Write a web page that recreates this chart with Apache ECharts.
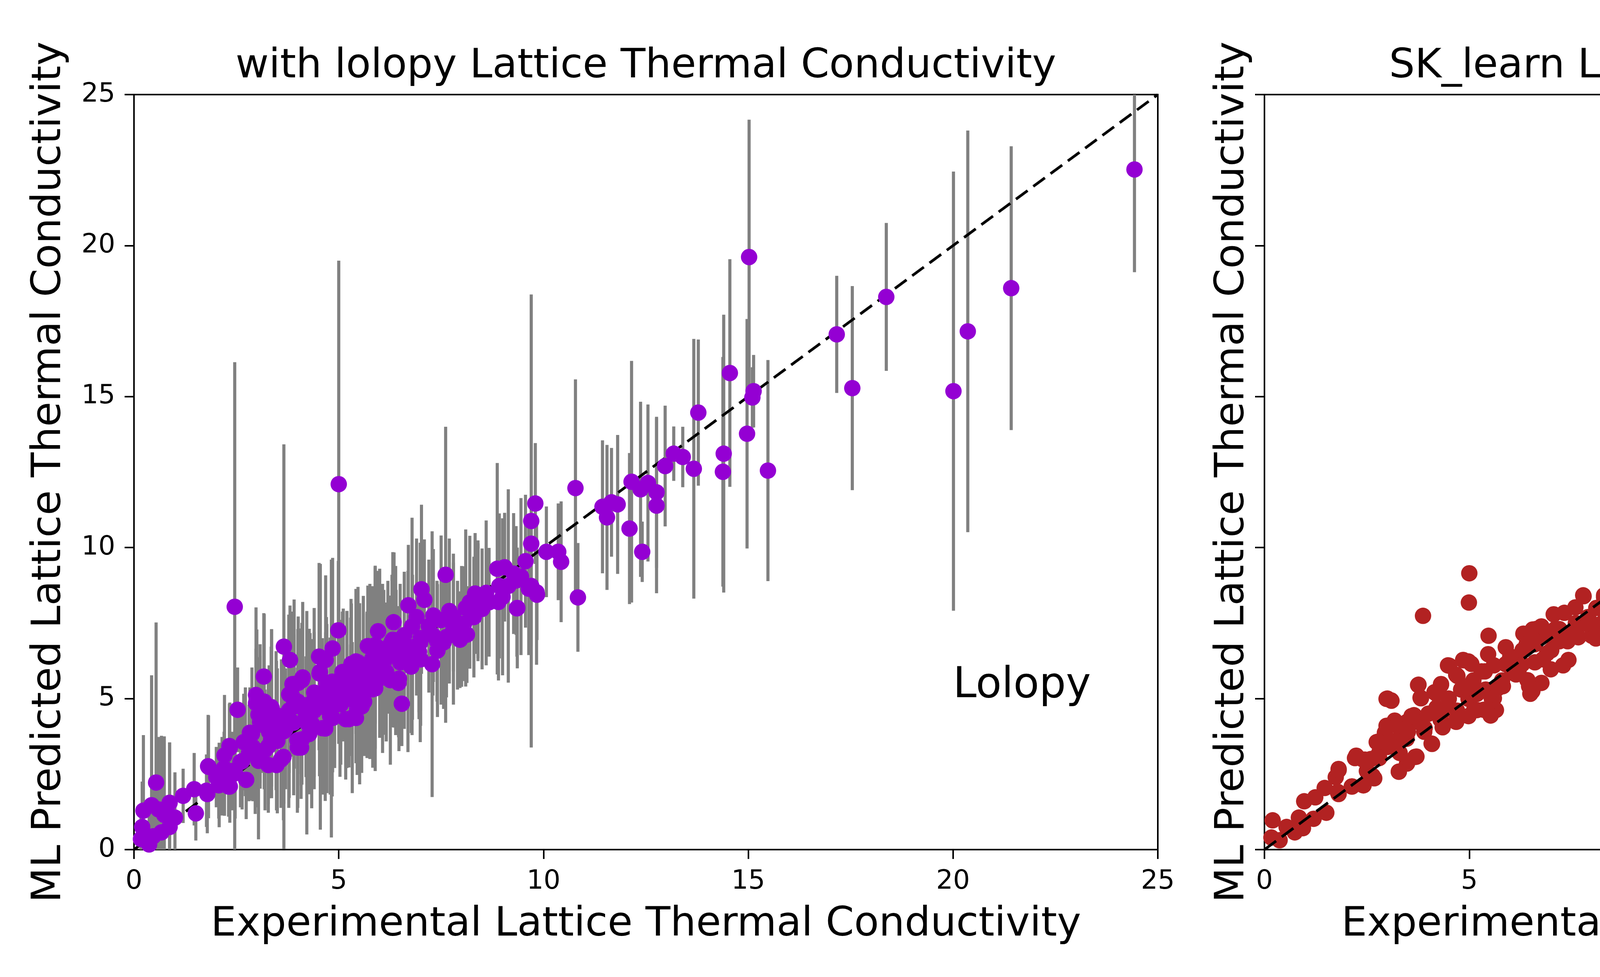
<!DOCTYPE html>
<html><head><meta charset="utf-8">
<script src="https://cdn.jsdelivr.net/npm/echarts@6/dist/echarts.min.js"></script>
<style>html,body{margin:0;padding:0;background:#fff}#c{width:6000px;height:2500px}</style>
</head><body><div id="c"></div>
<script>
// ---------------- data ----------------
const axisTicks = [0, 5, 10, 15, 20, 25];
const identityLine = [0, 25];
const titles = ['with lolopy Lattice Thermal Conductivity', 'SK_learn Lattice Thermal Conductivity'];
const xLabel = 'Experimental Lattice Thermal Conductivity';
const yLabel = 'ML Predicted Lattice Thermal Conductivity';
const panelNames = ['Lolopy', 'Sklearn'];
const maeText = 'MAE: 1.07';
const r2Value = '0.74';

// lolopy: [experimental, predicted, uncertainty]
const lolopyPoints = [
 [24.43,22.52,3.4],[21.42,18.59,4.7],[20.36,17.16,6.65],[20.01,15.18,7.27],[18.37,18.30,2.45],
 [17.54,15.28,3.38],[17.16,17.06,1.94],[15.02,19.62,4.55],[14.97,13.77,3.8],[15.13,15.18,1.2],
 [15.10,14.97,1.0],[14.55,15.78,3.77],[15.48,12.55,3.66],[14.40,13.11,4.6],[14.38,12.51,3.8],
 [13.78,14.47,2.42],[13.67,12.61,4.3],[13.40,13.00,1.0],[13.18,13.11,0.9],[12.97,12.70,2.0],
 [12.76,11.83,2.5],[12.76,11.39,2.9],[12.55,12.14,2.6],[12.37,11.93,2.9],[12.41,9.86,1.0],
 [12.15,12.18,4.0],[12.10,10.63,2.5],[11.81,11.43,2.3],[11.66,11.50,1.8],[11.55,11.00,2.4],
 [11.44,11.35,2.2],[10.78,11.97,3.6],[10.84,8.35,1.8],[10.43,9.53,2.0],[10.36,9.86,1.6],
 [10.07,9.86,1.5],[9.80,11.46,2.0],[9.70,10.88,7.5],[9.70,10.13,2.3],[9.83,8.52,2.4],
 [9.70,8.73,2.0],[9.56,9.55,2.2],[9.36,8.00,2.0],[8.87,9.30,3.5],[9.05,9.35,1.8],
 [9.27,9.14,2.0],[9.14,8.73,3.2],[8.92,8.73,2.4],[9.45,9.04,2.6],[7.61,9.10,4.9],
 [8.33,8.48,2.0],[8.20,8.19,2.2],[8.67,8.19,1.8],[8.50,7.97,2.0],[8.40,8.24,1.9],
 [9.00,8.37,2.6],[9.35,7.99,1.6],[9.64,8.64,2.2],[9.84,8.44,1.5],[9.33,8.91,1.8],
 [5.00,12.10,7.4],[2.46,8.04,8.1],[7.02,8.62,2.8],[7.09,8.27,2.0],[6.70,8.09,2.0],
 [7.31,7.75,2.2],[7.80,7.70,1.8],[8.00,7.39,2.0],[8.13,7.12,1.6],[7.96,6.95,1.6],
 [7.63,7.04,2.0],[7.41,6.59,2.2],[7.28,6.14,4.4],[6.79,7.39,3.6],[6.34,7.53,2.3],
 [5.96,7.23,2.0],[6.32,6.95,2.9],[6.99,6.86,3.3],[6.96,6.32,2.0],[6.77,6.06,2.2],
 [6.54,4.83,1.4],[6.46,5.52,1.8],[6.16,5.88,2.3],[5.89,6.77,2.6],[5.82,6.32,2.4],
 [5.69,5.88,2.0],[5.42,6.23,2.4],[5.29,5.88,1.8],[5.09,5.88,2.0],[4.99,7.26,2.3],
 [4.85,6.66,3.0],[4.68,6.28,2.8],[4.52,6.39,3.1],[4.54,5.88,2.0],[5.09,5.79,1.5],
 [5.62,4.90,1.8],[5.42,4.36,1.5],[5.25,4.32,1.6],[4.85,4.36,1.8],[4.67,4.01,2.4],
 [4.28,4.81,2.5],[4.08,3.38,1.7],[4.10,3.65,1.5],[4.01,5.52,2.2],[4.12,5.70,2.5],
 [3.87,5.48,2.4],[3.85,5.12,2.0],[3.66,6.72,6.7],[3.81,6.28,1.8],[3.78,4.58,3.2],
 [3.48,4.45,1.8],[3.35,4.72,2.0],[3.17,5.73,2.1],[2.98,5.12,2.9],[2.98,4.85,1.8],
 [3.08,4.50,2.3],[3.11,4.14,1.6],[2.53,4.63,1.4],[2.33,3.43,1.4],[2.21,3.12,2.0],
 [2.68,3.56,1.6],[2.88,3.83,2.2],[2.81,3.20,1.6],[3.35,3.65,1.8],[3.65,3.07,2.1],
 [3.48,2.80,1.5],[3.28,2.80,1.3],[3.04,2.94,2.6],[2.74,2.31,1.3],[2.31,2.09,1.0],
 [2.07,2.13,1.1],[1.81,2.76,1.7],[1.77,1.95,1.2],[2.01,2.40,1.0],[1.47,2.00,1.2],
 [1.51,1.20,0.9],[1.20,1.78,0.9],[0.87,1.55,2.0],[0.74,1.15,2.6],[0.54,2.22,5.3],
 [0.43,1.47,4.3],[0.23,1.29,2.5],[0.60,1.33,2.4],[1.00,1.06,1.5],[0.87,0.75,2.8],
 [0.67,0.57,3.2],[0.47,0.44,2.0],[0.37,0.17,1.5],[0.20,0.75,1.5],[0.17,0.35,1.0],
 [4.08,4.72,2.6],[4.28,3.83,2.0],[4.68,4.99,2.2],[5.05,4.81,2.0],[5.29,4.99,1.8],
 [5.45,4.67,2.2],[5.69,5.43,2.4],[5.89,5.34,2.0],[6.26,5.61,2.8],[6.69,6.23,3.0],
 [6.96,6.55,2.0],[7.56,6.86,2.2],[7.80,7.30,2.5],[8.06,7.48,1.9],[8.40,8.24,2.0],
 [2.60,2.90,1.5],[2.90,3.40,1.8],[3.20,3.30,2.0],[3.50,3.60,2.4],[3.70,4.00,2.0],
 [3.90,4.20,2.4],[4.20,4.40,2.0],[4.40,4.60,2.6],[4.60,4.80,2.2],[4.90,5.10,2.4],
 [5.20,5.30,2.6],[5.50,5.60,2.2],[5.80,5.90,2.0],[6.10,6.20,2.4],[6.40,6.40,2.2],
 [6.60,6.60,2.6],[7.00,7.00,2.4],[7.30,7.10,2.0],[2.40,2.60,1.3],[2.20,2.70,1.2],
 [3.00,3.10,1.7],[3.30,3.90,2.2],[3.60,4.30,2.0],[4.00,4.90,2.4],[4.40,5.20,2.8],
 [4.70,5.50,2.2],[5.00,5.50,2.0],[5.30,5.70,2.6],[5.60,6.00,2.4],[6.00,6.50,2.8],
 [6.30,6.90,2.2],[6.60,7.10,2.0],
 [3.00,4.89,2.4],[4.53,5.83,3.4],[4.10,5.61,1.9],[3.91,5.48,2.8],[3.79,5.14,2.6],
 [5.11,5.78,2.2],[4.84,5.56,3.8],[5.47,6.20,2.5],[5.31,6.15,2.0],[5.71,6.74,2.0],
 [6.35,6.94,2.9],[6.47,5.66,2.4],[6.07,5.70,2.5],[5.85,5.41,2.0],[5.56,4.74,2.2],
 [5.33,4.37,2.5],[5.17,4.32,2.0],[4.79,4.42,2.6],[4.60,4.02,2.2],[4.34,4.17,2.8],
 [3.99,3.62,2.4],[4.00,3.38,2.0],[3.79,4.61,2.9],[3.47,4.27,2.3],[3.36,4.69,2.6],
 [3.08,4.22,2.2],[3.04,4.47,1.9],[3.59,2.98,1.6],[2.83,3.87,1.5],[2.72,3.57,1.8],
 [2.34,3.37,1.5],[2.34,2.09,1.2],[2.08,2.14,1.4],[1.82,2.74,1.7],[1.79,1.84,1.3],
 [4.55,5.06,4.4],[5.03,5.01,2.6],[5.51,5.16,3.0],[5.83,5.31,2.6],[5.20,5.50,2.4],
 [4.71,4.67,2.8],[4.30,4.77,2.4],[3.91,4.92,2.2],[3.66,3.92,2.4],[3.28,3.42,2.2],
 [2.96,3.18,2.0],[2.64,2.93,1.6],[2.47,2.53,1.5],[2.15,2.43,1.3],[6.07,6.40,2.4],
 [6.39,6.59,2.8],[5.76,5.90,2.9],[4.22,4.20,3.7],[4.82,5.00,4.6],[5.89,6.00,3.4],
 [3.18,4.90,2.9],[3.36,4.50,2.8],
 [6.90,7.70,2.6],[7.20,7.40,2.2],[7.50,7.60,2.8],[7.70,7.90,2.4],[8.10,8.00,2.6],
 [7.00,6.30,2.2],[7.40,6.90,2.0],[6.80,6.70,2.4],[6.50,6.20,2.6],[6.20,6.70,2.2],
 [7.90,7.10,1.8],[8.30,7.70,2.0],[8.60,8.50,2.4],[8.90,8.20,2.6]
];

// sklearn: [experimental, predicted]
const sklearnPoints = [
 [24.42,21.22],[21.40,18.55],[20.34,16.75],[20.01,14.72],[18.35,17.51],[17.55,14.93],[17.15,17.39],
 [15.01,15.80],[15.12,14.45],[14.96,14.21],[15.47,14.14],[14.54,14.41],[14.37,13.19],[14.41,11.48],
 [13.77,13.75],[13.66,12.86],[13.40,13.25],[13.18,12.76],[12.98,12.92],[12.73,11.08],[12.75,11.25],
 [12.53,11.50],[12.38,11.93],[12.40,10.98],[12.14,12.65],[12.09,10.44],[11.80,11.17],[11.56,10.96],
 [11.43,11.46],[10.79,11.62],[10.83,9.47],[10.43,9.45],[10.35,10.48],[10.04,9.97],[9.70,10.77],
 [9.71,9.97],[9.75,9.66],[9.82,8.68],[9.63,8.77],[9.42,8.25],[9.26,8.31],[8.97,9.70],[8.91,9.35],
 [9.13,9.40],[9.31,9.33],[9.51,9.24],[9.06,8.62],[8.64,8.73],[8.47,8.68],[8.87,8.04],[8.51,7.63],
 [8.29,8.35],[7.78,8.42],[5.00,9.15],[4.99,8.18],[3.87,7.74],
 [5.47,7.08],[5.46,6.47],[5.89,6.70],[6.32,7.15],[6.62,7.30],[6.76,7.39],[7.06,7.79],[7.32,7.84],
 [7.59,8.02],[7.79,8.39],[8.29,8.42],[8.46,8.73],[8.66,8.64],[8.96,9.66],[8.86,9.33],[10.37,9.44],
 [9.85,8.64],[9.33,8.28],[8.88,8.02],[8.33,7.66],[8.36,8.19],[8.09,6.99],[7.99,7.08],[8.13,7.44],
 [7.83,7.48],[7.66,7.03],[7.42,6.28],[7.29,6.10],[6.99,5.97],[6.76,5.52],[6.54,5.25],[6.42,5.61],
 [6.29,6.14],[6.05,5.88],[5.89,6.14],[5.69,5.34],[5.55,4.99],[5.52,4.45],[5.35,4.63],[5.12,4.63],
 [4.98,4.99],[4.98,6.23],[4.85,6.28],[4.68,5.79],[4.48,6.10],[4.31,5.48],[4.15,5.21],[3.81,5.03],
 [3.75,5.45],[3.65,4.45],[3.48,4.23],[3.09,4.94],[2.98,4.99],[3.18,4.27],[2.98,4.10],[2.74,3.56],
 [2.94,3.87],[3.34,3.83],[3.68,3.07],[3.48,2.85],[3.28,2.58],[4.08,3.51],[4.35,4.05],[4.68,4.23],
 [2.24,3.11],[2.41,2.98],[2.68,2.36],[2.41,2.13],[2.14,2.09],[1.81,2.67],[1.74,2.40],[1.79,1.91],
 [1.47,2.04],[1.24,1.73],[0.97,1.60],[1.51,1.22],[1.20,1.02],[0.94,0.71],[0.84,1.06],[0.74,0.57],
 [0.54,0.75],[0.20,0.97],[0.37,0.31],[0.17,0.40],
 [3.00,3.40],[3.20,3.60],[3.50,3.90],[3.80,4.20],[4.00,4.50],[4.20,4.70],[4.50,5.00],[4.80,5.30],
 [5.10,5.60],[5.30,5.90],[5.60,6.10],[6.00,6.40],[6.30,6.60],[6.60,6.80],[6.90,7.10],[7.20,7.30],
 [3.90,3.90],[4.30,4.30],[4.70,4.60],[5.00,5.00],[5.40,5.30],[5.80,5.60],[6.20,5.90],[6.60,6.20],
 [7.00,6.60],[7.40,6.90],[2.60,3.00],[2.80,3.20],[3.30,3.20],[2.50,2.60],
 [6.55,7.29],[4.51,6.09],[4.85,6.27],[5.05,6.15],[3.76,5.46],[4.31,5.46],[4.71,5.75],[3.00,5.00],
 [3.10,4.93],[3.82,5.01],[4.20,5.16],[5.38,5.90],[5.60,5.01],[5.65,4.62],[5.52,4.44],[5.19,4.62],
 [4.98,4.42],[4.69,4.32],[4.36,4.12],[4.09,3.50],[3.71,3.08],[3.28,2.58],[3.18,4.22],[2.99,4.04],
 [2.77,3.57],[2.64,2.44],[2.42,2.13],[2.21,3.03],[2.45,2.98],[2.13,2.09],[1.81,2.63],[1.81,1.84],
 [3.59,4.42],[3.91,4.02],[3.47,3.67],[3.12,3.42],[2.80,3.03],[4.49,4.66],[5.82,5.41],[6.14,5.80],
 [6.46,5.41],[6.49,5.16],[4.87,5.41],[5.19,5.16],
 [6.60,6.90],[6.90,6.50],[7.20,6.90],[7.50,7.20],[7.10,7.30],[7.90,7.70],[8.10,8.00],[6.40,6.80],
 [6.80,6.30],[7.60,7.50]
];

// ---------------- chart ----------------
const F = 'DejaVu Sans';
const chart = echarts.init(document.getElementById('c'), null, {renderer: 'canvas', width: 6000, height: 2500});
const gridBoxes = [
  {left: 343, top: 242, width: 2621, height: 1932},
  {left: 3237, top: 242, width: 2622, height: 1932}
];

function xAx(gi) {
  return {
    gridIndex: gi, type: 'value', min: axisTicks[0], max: axisTicks[axisTicks.length - 1],
    interval: axisTicks[1] - axisTicks[0],
    name: xLabel, nameLocation: 'middle', nameGap: 141,
    nameTextStyle: {fontSize: 104, fontFamily: F, color: '#000'},
    axisLine: {show: true, onZero: false, lineStyle: {color: '#000', width: 4}},
    axisTick: {show: true, inside: false, length: 24, lineStyle: {color: '#000', width: 4}},
    axisLabel: {show: true, margin: 48, fontSize: 68, fontFamily: F, color: '#000', hideOverlap: false},
    splitLine: {show: false}
  };
}
function yAx(gi) {
  return {
    gridIndex: gi, type: 'value', min: axisTicks[0], max: axisTicks[axisTicks.length - 1],
    interval: axisTicks[1] - axisTicks[0],
    name: yLabel, nameLocation: 'middle', nameRotate: 90, nameGap: gi === 0 ? 164 : 29,
    nameTextStyle: {fontSize: 104, fontFamily: F, color: '#000'},
    axisLine: {show: true, onZero: false, lineStyle: {color: '#000', width: 4}},
    axisTick: {show: true, inside: false, length: 24, lineStyle: {color: '#000', width: 4}},
    axisLabel: {show: gi === 0, margin: 48, fontSize: 68, fontFamily: F, color: '#000', hideOverlap: false},
    splitLine: {show: false}
  };
}

function errRender(params, api) {
  const x = api.value(0), y = api.value(1), e = api.value(2);
  const p1 = api.coord([x, y - e]);
  const p2 = api.coord([x, y + e]);
  return {type: 'line', shape: {x1: p1[0], y1: p1[1], x2: p2[0], y2: p2[1]},
          style: {stroke: '#808080', lineWidth: 8}};
}

const diag = identityLine.map(v => [v, v]);

chart.setOption({
  animation: false,
  backgroundColor: '#fff',
  grid: gridBoxes.map(g => Object.assign({show: true, borderColor: '#000', borderWidth: 4, backgroundColor: 'transparent'}, g)),
  xAxis: [xAx(0), xAx(1)],
  yAxis: [yAx(0), yAx(1)],
  series: [
    {type: 'custom', xAxisIndex: 0, yAxisIndex: 0, z: 1, clip: true, renderItem: errRender,
     encode: {x: 0, y: 1}, data: lolopyPoints},
    {type: 'line', xAxisIndex: 0, yAxisIndex: 0, z: 2, symbol: 'none', data: diag,
     lineStyle: {color: '#000', width: 7, type: [37, 18]}},
    {type: 'scatter', xAxisIndex: 0, yAxisIndex: 0, z: 3, symbol: 'circle', symbolSize: 42, clip: true,
     itemStyle: {color: '#9400D3', opacity: 1}, data: lolopyPoints.map(p => [p[0], p[1]])},
    {type: 'scatter', xAxisIndex: 1, yAxisIndex: 1, z: 2, symbol: 'circle', symbolSize: 42, clip: true,
     itemStyle: {color: '#B22222', opacity: 1}, data: sklearnPoints},
    {type: 'line', xAxisIndex: 1, yAxisIndex: 1, z: 3, symbol: 'none', data: diag,
     lineStyle: {color: '#000', width: 7, type: [37, 18]}}
  ]
});

// ---------------- annotations ----------------
function txt(x, y, text, size, align, valign, extra) {
  return {
    type: 'text', x: x, y: y, z: 10,
    style: Object.assign({text: text, fontSize: size, fontFamily: F, fill: '#000',
      align: align, verticalAlign: valign, textAlign: align, textVerticalAlign: valign}, extra || {})
  };
}
const g = [];
gridBoxes.forEach((b, i) => {
  g.push(txt(b.left + b.width / 2, 119, titles[i], 104, 'center', 'top'));
  const p = chart.convertToPixel({gridIndex: i}, [20, 5]);
  g.push(txt(p[0], p[1] + 22, panelNames[i], 108, 'left', 'bottom'));
});
// stats box anchored at (12.5, 2.5) in the sklearn panel
const a = chart.convertToPixel({gridIndex: 1}, [12.5, 2.5]);
g.push({type: 'rect', z: 9, shape: {x: a[0] - 28, y: a[1] - 161, width: 433, height: 207},
        style: {fill: '#fff', stroke: '#000', lineWidth: 5}});
g.push(txt(a[0], a[1] - 79 + 14, maeText, 68, 'left', 'bottom'));
g.push(txt(a[0], a[1] + 14, 'R', 68, 'left', 'bottom', {fontStyle: 'italic'}));
g.push(txt(a[0] + 55, a[1] - 34 + 10, '2', 46, 'left', 'bottom'));
g.push(txt(a[0] + 89, a[1] + 14, ':', 68, 'left', 'bottom'));
g.push(txt(a[0] + 156, a[1] + 14, r2Value, 68, 'left', 'bottom'));
chart.setOption({graphic: g});
</script></body></html>
